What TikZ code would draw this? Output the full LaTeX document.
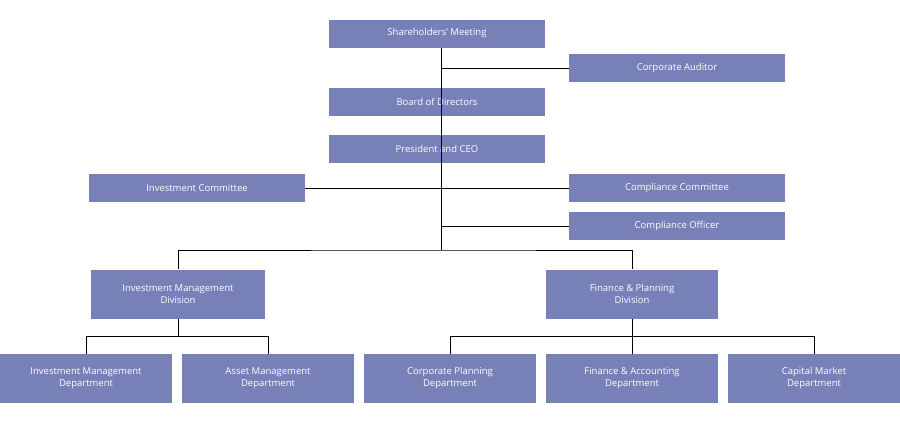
\documentclass[tikz,border=0pt]{standalone}
\usepackage{fontspec}
\setmainfont{Open Sans}
\usetikzlibrary{positioning,calc}
\definecolor{boxblue}{RGB}{120,128,184}

\begin{document}
\begin{tikzpicture}[x=1pt,y=-1pt,
    unit/.style={rectangle, fill=boxblue, text=white, minimum width=216pt, minimum height=28pt, inner sep=0pt, align=center, font=\fontsize{9.5}{12}\selectfont},
    dept/.style={unit, minimum width=172pt, minimum height=49pt},
    wire/.style={draw=black, line width=0.6pt}]
    \useasboundingbox (0,0) rectangle (900,421);

    \node (meeting) [unit] at (437,33.5) {Shareholders' Meeting};
    \node (auditor) [unit] at (677,68) {Corporate Auditor};
    \node (board) [unit] at (437,102) {Board of Directors};
    \node (ceo) [unit] at (437,149) {President and CEO};
    \node (invcom) [unit] at (197,188) {Investment Committee};
    \node (compcom) [unit] at (677,188) {Compliance Committee};
    \node (compoff) [unit] at (677,226) {Compliance Officer};

    \node (imdiv) [dept, minimum width=174pt] at (178,294) {Investment Management\\Division};
    \node (fpdiv) [dept] at (632,294) {Finance \& Planning\\Division};

    \node (imdept) [dept] at (86,378.5) {Investment Management\\Department};
    \node (amdept) [dept] at (268,378.5) {Asset Management\\Department};
    \node (cpdept) [dept] at (450,378.5) {Corporate Planning\\Department};
    \node (fadept) [dept] at (632,378.5) {Finance \& Accounting\\Department};
    \node (cmdept) [dept] at (814,378.5) {Capital Market\\Department};

    % trunk
    \coordinate (top) at (441,48);
    \coordinate (split) at (441,250);
    \draw[wire] (top) -- (split);
    \draw[wire] (441,68) -- (auditor.west);
    \draw[wire] (invcom.east) -- (compcom.west);
    \draw[wire] (441,226) -- (compoff.west);
    \draw[wire] (imdiv.north) |- (split) -| (fpdiv.north);

    % departments
    \draw[wire] (imdiv.south) -- ++(0,18) coordinate (imjoin);
    \draw[wire] (imdept.north) |- (imjoin) -| (amdept.north);
    \draw[wire] (fpdiv.south) -- (fadept.north);
    \draw[wire] (cpdept.north) |- ($(fpdiv.south)+(0,18)$) -| (cmdept.north);
\end{tikzpicture}
\end{document}
